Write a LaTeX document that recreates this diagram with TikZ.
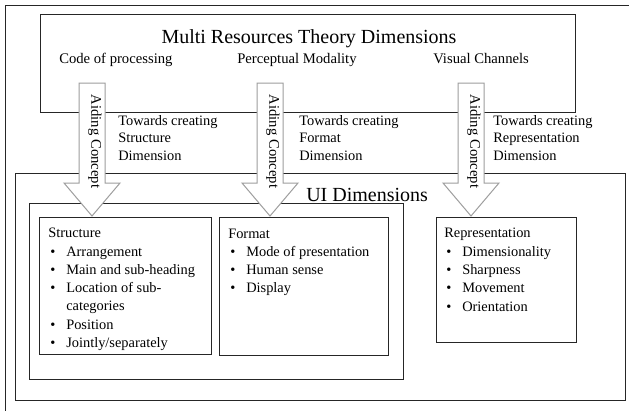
\documentclass[tikz,border=0pt]{standalone}
\usepackage{fontspec}
\setmainfont{Liberation Serif}
\usetikzlibrary{fit}
\newcommand\bl{\makebox[13.5pt][l]{\hspace{1.5pt}\textbullet}}
\newcommand\blc{\hspace*{13.5pt}}
\begin{document}
\begin{tikzpicture}[x=0.75pt,y=-0.75pt,
  frame/.style={draw=black!85, line width=0.75pt, inner sep=0pt},
  body/.style={font=\fontsize{10.8}{13.7}\selectfont, inner sep=0pt, anchor=base west, align=left},
  towards/.style={font=\fontsize{10.8}{13.1}\selectfont, inner sep=0pt, anchor=base west, align=left},
  head/.style={font=\fontsize{15}{18}\selectfont, inner sep=0pt},
  sub/.style={font=\fontsize{11}{13}\selectfont, inner sep=0pt, anchor=base west},
  blockarrow/.style={draw=black!38, fill=white, line width=0.75pt, line join=miter},
  arrowtext/.style={font=\fontsize{11}{13}\selectfont, inner sep=0pt, rotate=-90}
]
\useasboundingbox (0,0) rectangle (629,411);
\fill[white] (0,0) rectangle (629,411);

% outer frame (cropped at right and bottom)
\draw[draw=black!85, line width=0.75pt] (629,5) -- (5,5) -- (5,411);

% boxes
\node[frame, fit={(40,14) (575,112)}] (mrt) {};
\node[frame, fit={(15,173) (625,400)}] (ui) {};
\node[frame, fit={(29,203) (403,379)}] (group) {};
\node[frame, fit={(39,217) (211,354)}] (structbox) {};
\node[frame, fit={(219,217) (388,355)}] (formatbox) {};
\node[frame, fit={(436,217) (576,342)}] (reprbox) {};

% texts of the top box
\node[head, anchor=base] (mrttitle) at (309,43) {Multi Resources Theory Dimensions};
\node[sub] (code) at (59,63) {Code of processing};
\node[sub] (percept) at (237,63) {Perceptual Modality};
\node[sub] (visual) at (433,63) {Visual Channels};

% towards texts (anchor = baseline of last line)
\node[towards] (tw1) at (118,160) {Towards creating\\Structure\\Dimension};
\node[towards] (tw2) at (299,160) {Towards creating\\Format\\Dimension};
\node[towards] (tw3) at (493,160) {Towards creating\\Representation\\Dimension};

% UI dimensions
\node[head, anchor=base west] (uititle) at (306,201) {UI Dimensions};

% box contents (anchor = baseline of last line)
\node[body] (structtxt) at (48,347.5) {Structure\\
\bl Arrangement\\
\bl Main and sub-heading\\
\bl Location of sub-\\
\blc categories\\
\bl Position\\
\bl Jointly/separately};
\node[body] (formattxt) at (228,292.8) {Format\\
\bl Mode of presentation\\
\bl Human sense\\
\bl Display};
\node[body] (reprtxt) at (444,311) {Representation\\
\bl Dimensionality\\
\bl Sharpness\\
\bl Movement\\
\bl Orientation};

% arrow tips
\coordinate (tip1) at (92,216);
\coordinate (tip2) at (270,216);
\coordinate (tip3) at (471,216);

\foreach \t in {tip1,tip2,tip3}{
  \draw[blockarrow, shift={(\t)}] (-13,-133) -- (13,-133) -- (13,-33) -- (28,-33) -- (0,0) -- (-28,-33) -- (-13,-33) -- cycle;
}
\node[arrowtext] (aid1) at (95,141.5) {Aiding Concept};
\node[arrowtext] (aid2) at (273,141.5) {Aiding Concept};
\node[arrowtext] (aid3) at (474,141.5) {Aiding Concept};
\end{tikzpicture}
\end{document}
